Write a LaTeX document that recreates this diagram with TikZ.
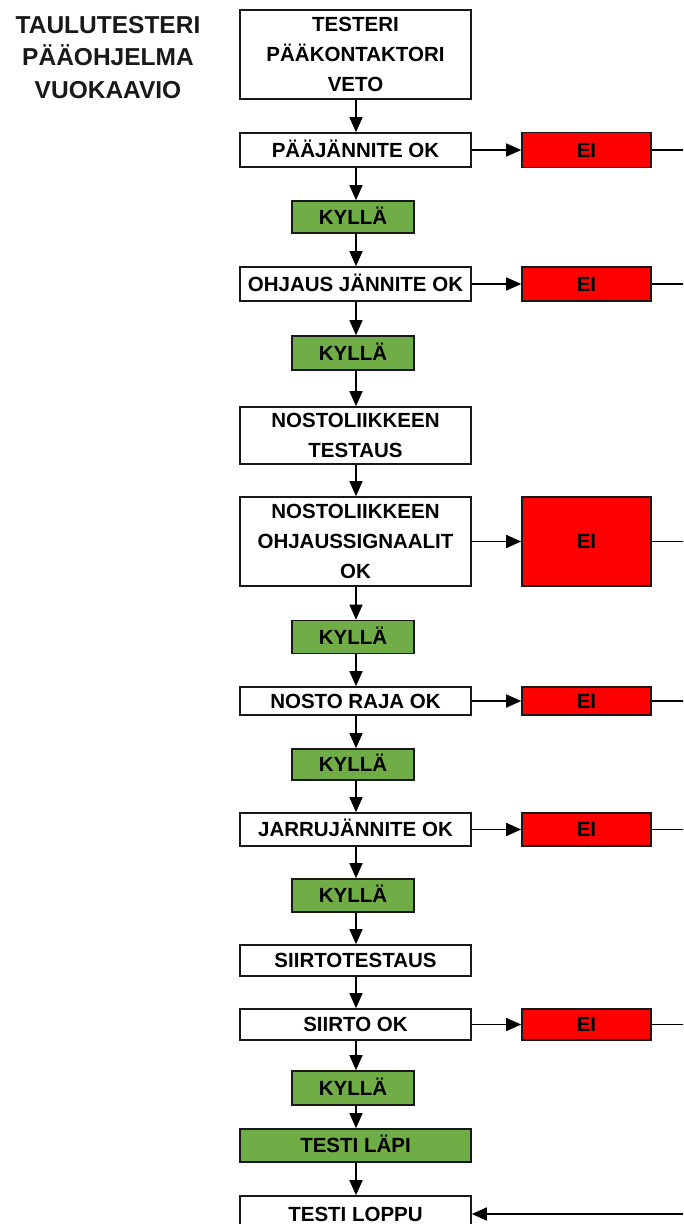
\documentclass[tikz,border=0pt]{standalone}
\usepackage{fontspec}
\setmainfont{Liberation Sans}
\usetikzlibrary{arrows.meta}
\definecolor{okgreen}{RGB}{112,173,71}
\definecolor{eired}{RGB}{255,0,0}
\definecolor{edgecol}{RGB}{25,25,25}
\begin{document}
\begin{tikzpicture}[x=1pt,y=-1pt,
  base/.style={draw=edgecol, line width=1.6pt, inner sep=0pt,
    font=\fontsize{20.5}{30}\selectfont\bfseries, align=center},
  mainbox/.style={base, fill=white, minimum width=231pt},
  yesbox/.style={base, fill=okgreen, minimum width=122pt},
  nobox/.style={base, fill=eired, minimum width=129pt},
  one/.style={text height=14.7pt, text depth=0pt},
  flow/.style={line width=1.6pt, -{Triangle[length=15pt,width=13pt]}},
  plain/.style={line width=1.6pt}]
\useasboundingbox (0,0) rectangle (683,1224);
\clip (0,0) rectangle (683,1224);

\node[inner sep=0pt, align=center, font=\fontsize{24.5}{32.5}\selectfont\bfseries, text=edgecol]
  (title) at (108,57.5) {TAULUTESTERI\\PÄÄOHJELMA\\VUOKAAVIO};

\coordinate (ax) at (356,0);
\coordinate (re) at (684,0);

\node[mainbox, minimum height=89pt] (a) at (355.5,54.5) {TESTERI\\PÄÄKONTAKTORI\\VETO};
\node[mainbox, one, minimum height=34pt] (b) at (355.5,150) {PÄÄJÄNNITE OK};
\node[nobox, one, minimum height=35pt] (nb) at (586.5,150) {EI};
\node[yesbox, one, minimum height=32pt] (k1) at (353,217) {KYLLÄ};
\node[mainbox, one, minimum height=34pt] (c) at (355.5,284) {OHJAUS JÄNNITE OK};
\node[nobox, one, minimum height=34pt] (nc) at (586.5,284) {EI};
\node[yesbox, one, minimum height=34pt] (k2) at (353,353) {KYLLÄ};
\node[mainbox, minimum height=57pt] (d) at (355.5,435.5) {NOSTOLIIKKEEN\\TESTAUS};
\node[mainbox, minimum height=89pt] (e) at (355.5,541.5) {NOSTOLIIKKEEN\\OHJAUSSIGNAALIT\\OK};
\node[nobox, one, minimum height=89pt] (ne) at (586.5,541.5) {EI};
\node[yesbox, one, minimum height=33pt] (k3) at (353,637) {KYLLÄ};
\node[mainbox, one, minimum height=28pt] (f) at (355.5,701) {NOSTO RAJA OK};
\node[nobox, one, minimum height=28pt] (nf) at (586.5,701) {EI};
\node[yesbox, one, minimum height=31pt] (k4) at (353,764.5) {KYLLÄ};
\node[mainbox, one, minimum height=33pt] (g) at (355.5,829.5) {JARRUJÄNNITE OK};
\node[nobox, one, minimum height=33pt] (ng) at (586.5,829.5) {EI};
\node[yesbox, one, minimum height=33pt] (k5) at (353,895.5) {KYLLÄ};
\node[mainbox, one, minimum height=31pt] (h) at (355.5,960.5) {SIIRTOTESTAUS};
\node[mainbox, one, minimum height=31pt] (i) at (355.5,1024.5) {SIIRTO OK};
\node[nobox, one, minimum height=31pt] (ni) at (586.5,1024.5) {EI};
\node[yesbox, one, minimum height=34pt] (k6) at (353,1088) {KYLLÄ};
\node[mainbox, one, fill=okgreen, minimum height=33pt] (j) at (355.5,1145.5) {TESTI LÄPI};
\node[mainbox, one, minimum height=36pt] (l) at (355.5,1214) {TESTI LOPPU};

\foreach \u/\v in {a/b, b/k1, k1/c, c/k2, k2/d, d/e, e/k3, k3/f, f/k4, k4/g, g/k5, k5/h, h/i, i/k6, k6/j, j/l}
  \draw[flow] (ax |- \u.south) -- (ax |- \v.north);

\foreach \u in {b, c, e, f, g, i}
  \draw[flow] (\u.east) -- (n\u.west);

\foreach \u in {nb, nc, ne, nf, ng, ni}
  \draw[plain] (\u.east) -- (\u.east -| re);

\draw[flow] (re |- l.east) -- (l.east);
\end{tikzpicture}
\end{document}
